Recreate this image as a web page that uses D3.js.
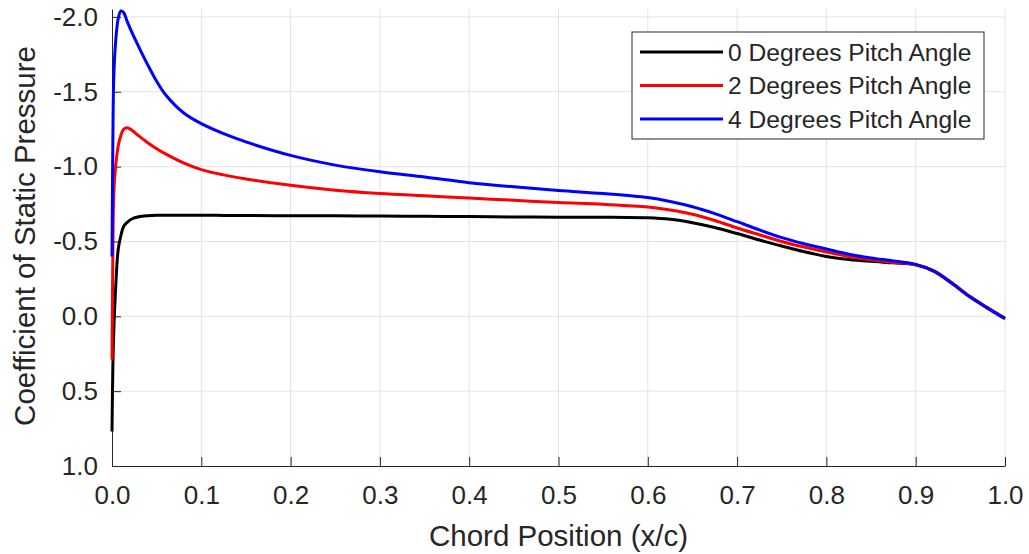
<!DOCTYPE html>
<html>
<head>
<meta charset="utf-8">
<script src="https://cdn.jsdelivr.net/npm/d3@7"></script>
<style>
  body { margin: 0; background: #fff; }
  svg text { font-family: "Liberation Sans", Arial, Helvetica, sans-serif; fill: #262626; }
</style>
</head>
<body>
<svg id="chart" width="1029" height="554"></svg>
<script>
// chord positions (x/c) shared by all series
const chord = [0, 0.001, 0.002, 0.004, 0.007, 0.01, 0.013, 0.017, 0.022, 0.03, 0.04, 0.05, 0.06, 0.08,
  0.1, 0.125, 0.15, 0.2, 0.25, 0.3, 0.35, 0.4, 0.45, 0.5, 0.55, 0.6, 0.625, 0.65, 0.675, 0.7,
  0.725, 0.75, 0.775, 0.8, 0.825, 0.85, 0.875, 0.9, 0.92, 0.94, 0.96, 0.98, 1.0]

const cp0 = [0.77, 0.32, 0.1, -0.18, -0.45, -0.54, -0.6, -0.628, -0.65, -0.665, -0.672, -0.675, -0.675, -0.675,
  -0.675, -0.674, -0.673, -0.672, -0.671, -0.67, -0.668, -0.666, -0.664, -0.662, -0.662, -0.658, -0.648, -0.625, -0.593, -0.553,
  -0.51, -0.47, -0.432, -0.4, -0.38, -0.367, -0.357, -0.345, -0.302, -0.225, -0.135, -0.058, 0.015]

const cp2 = [0.29, -0.45, -0.82, -1.0, -1.14, -1.21, -1.25, -1.26, -1.245, -1.205, -1.16, -1.12, -1.085, -1.025,
  -0.98, -0.945, -0.918, -0.875, -0.842, -0.82, -0.805, -0.79, -0.775, -0.76, -0.748, -0.73, -0.71, -0.682, -0.64, -0.59,
  -0.545, -0.5, -0.463, -0.43, -0.4, -0.377, -0.36, -0.345, -0.305, -0.226, -0.135, -0.058, 0.013]

const cp4 = [-0.4, -1.2, -1.6, -1.83, -1.99, -2.04, -2.03, -1.97, -1.9, -1.8, -1.68, -1.57, -1.48, -1.36,
  -1.287, -1.22, -1.165, -1.075, -1.01, -0.965, -0.93, -0.893, -0.865, -0.84, -0.82, -0.793, -0.767, -0.732, -0.686, -0.632,
  -0.577, -0.526, -0.485, -0.45, -0.415, -0.39, -0.37, -0.347, -0.303, -0.222, -0.132, -0.056, 0.015]

const seriesNames = ['0 Degrees Pitch Angle', '2 Degrees Pitch Angle', '4 Degrees Pitch Angle']
const seriesColors = ['#000000', '#ff0000', '#0000ff']
const seriesValues = [cp0, cp2, cp4]

const xTicks = [0, 0.1, 0.2, 0.3, 0.4, 0.5, 0.6, 0.7, 0.8, 0.9, 1.0]
const yTicks = [-2.0, -1.5, -1.0, -0.5, 0.0, 0.5, 1.0]

const svg = d3.select('#chart')
const x = d3.scaleLinear().domain([0, 1]).range([112, 1005])
const y = d3.scaleLinear().domain([-2.053, 1]).range([9, 466])
const fmt = d => d.toFixed(1)

// grid
const grid = svg.append('g').attr('stroke', '#e3e3e3').attr('stroke-width', 1)
grid.selectAll('line.gx').data(xTicks.slice(1)).enter().append('line')
  .attr('x1', d => x(d)).attr('x2', d => x(d)).attr('y1', y.range()[0]).attr('y2', y.range()[1])
grid.selectAll('line.gy').data(yTicks.slice(0, -1)).enter().append('line')
  .attr('y1', d => y(d)).attr('y2', d => y(d)).attr('x1', x.range()[0]).attr('x2', x.range()[1])

// axes
const xAxis = svg.append('g').attr('transform', `translate(0,${y.range()[1]})`)
  .call(d3.axisBottom(x).tickValues(xTicks).tickFormat(fmt).tickSize(-9).tickSizeOuter(0).tickPadding(20))
const yAxis = svg.append('g').attr('transform', `translate(${x.range()[0]},0)`)
  .call(d3.axisLeft(y).tickValues(yTicks).tickFormat(fmt).tickSize(-9).tickSizeOuter(0).tickPadding(14))
;[xAxis, yAxis].forEach(a => {
  a.selectAll('path, line').attr('stroke', '#262626')
  a.selectAll('text').attr('font-size', 26).attr('fill', '#262626')
    .attr('font-family', '"Liberation Sans", Arial, sans-serif')
})

// curves
const line = d3.line().x(d => x(d[0])).y(d => y(d[1])).curve(d3.curveCatmullRom.alpha(0.5))
seriesValues.forEach((vals, i) => {
  svg.append('path')
    .datum(chord.map((c, j) => [c, vals[j]]))
    .attr('fill', 'none')
    .attr('stroke', seriesColors[i])
    .attr('stroke-width', 3)
    .attr('stroke-linejoin', 'round')
    .attr('d', line)
})

// axis labels
svg.append('text')
  .attr('x', (x.range()[0] + x.range()[1]) / 2).attr('y', 546)
  .attr('text-anchor', 'middle').attr('font-size', 29.5)
  .text('Chord Position (x/c)')
svg.append('text')
  .attr('transform', `translate(35,236) rotate(-90)`)
  .attr('text-anchor', 'middle').attr('font-size', 29.5)
  .text('Coefficient of Static Pressure')

// legend
const legend = svg.append('g')
legend.append('rect')
  .attr('x', 632).attr('y', 32).attr('width', 352).attr('height', 107)
  .attr('fill', '#fff').attr('stroke', '#262626').attr('stroke-width', 1)
seriesNames.forEach((name, i) => {
  const ly = 52 + i * 33.5
  legend.append('line')
    .attr('x1', 640).attr('x2', 723).attr('y1', ly).attr('y2', ly)
    .attr('stroke', seriesColors[i]).attr('stroke-width', 3)
  legend.append('text')
    .attr('x', 728).attr('y', ly + 8.5).attr('font-size', 24.6)
    .text(name)
})
</script>
</body>
</html>
